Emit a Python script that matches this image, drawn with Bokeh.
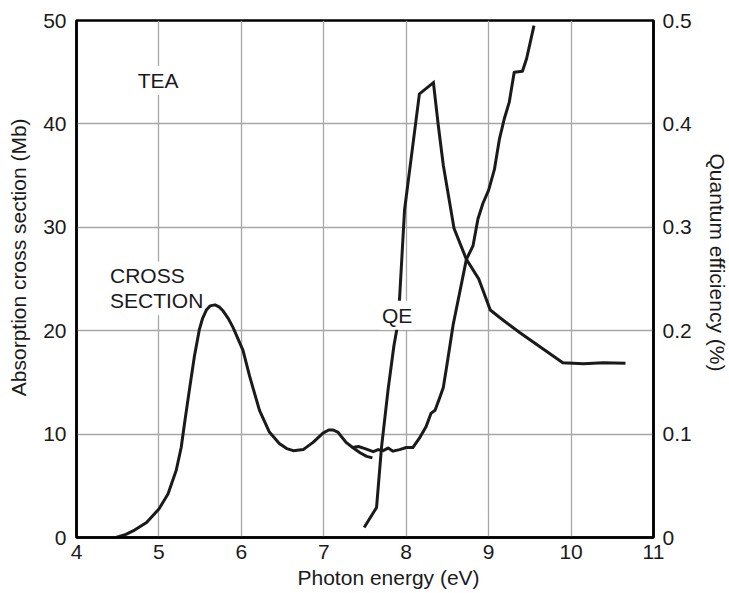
import math
from bokeh.plotting import figure
from bokeh.models import (ColumnDataSource, Range1d, LinearAxis, FixedTicker, Label, Title)
from bokeh.embed import file_html
from bokeh.resources import INLINE

# ---- data ----
# Absorption cross section (Mb), lower-energy part
cs1_energy = [4.48, 4.60, 4.705, 4.85, 5.00, 5.11, 5.21, 5.27, 5.31, 5.37, 5.43, 5.49,
              5.53, 5.575, 5.62, 5.68, 5.73, 5.78, 5.84, 5.90, 6.02, 6.10, 6.22, 6.34,
              6.46, 6.55, 6.63, 6.75, 6.87, 6.99, 7.06, 7.11, 7.17, 7.27, 7.35, 7.44,
              7.52, 7.59]
cs1_value = [0.0, 0.3, 0.72, 1.46, 2.76, 4.2, 6.5, 8.7, 11.0, 14.3, 17.5, 20.1,
             21.2, 22.0, 22.4, 22.5, 22.3, 21.9, 21.2, 20.3, 18.1, 15.6, 12.3, 10.2,
             9.1, 8.6, 8.4, 8.5, 9.2, 10.1, 10.4, 10.4, 10.2, 9.2, 8.7, 8.2,
             7.85, 7.7]
# Absorption cross section (Mb), higher-energy part
cs2_energy = [7.35, 7.42, 7.50, 7.60, 7.66, 7.72, 7.78, 7.84, 7.92, 8.00, 8.08, 8.16,
              8.24, 8.30, 8.35, 8.41, 8.45, 8.50, 8.57, 8.73, 8.81, 8.87, 8.93, 9.00,
              9.07, 9.13, 9.19, 9.25, 9.31, 9.41, 9.46, 9.55]
cs2_value = [8.7, 8.8, 8.6, 8.3, 8.5, 8.4, 8.65, 8.35, 8.5, 8.7, 8.7, 9.6,
             10.7, 12.0, 12.3, 13.6, 14.5, 17.0, 20.6, 26.9, 28.2, 30.8, 32.3, 33.6,
             35.6, 38.5, 40.5, 42.1, 45.0, 45.1, 46.3, 49.5]
# Quantum efficiency (%)
qe_energy = [7.49, 7.64, 7.70, 7.78, 7.85, 7.89, 7.92, 7.98, 8.16, 8.33, 8.39, 8.45,
             8.58, 8.73, 8.88, 9.02, 9.13, 9.38, 9.90, 10.15, 10.39, 10.66]
qe_value = [0.0097, 0.029, 0.087, 0.143, 0.185, 0.203, 0.232, 0.317, 0.429, 0.440, 0.398, 0.360,
            0.299, 0.269, 0.250, 0.220, 0.213, 0.198, 0.169, 0.168, 0.169, 0.1685]

x_ticks = [4, 5, 6, 7, 8, 9, 10, 11]
y_ticks = [0, 10, 20, 30, 40, 50]
qe_ticks = [0, 0.1, 0.2, 0.3, 0.4, 0.5]
qe_tick_labels = ["0", "0.1", "0.2", "0.3", "0.4", "0.5"]

x_title = "Photon energy (eV)"
y_title = "Absorption cross section (Mb)"
qe_title = "Quantum efficiency (%)"

FONT = "Liberation Sans"
FS = "21px"
INK = "#1a1a1a"

p = figure(width=729, height=593, x_range=Range1d(4, 11), y_range=Range1d(0, 50),
           output_backend="svg", toolbar_location=None,
           min_border_left=76, min_border_right=76, min_border_top=20, min_border_bottom=56)
p.extra_y_ranges = {"qe": Range1d(0, 0.5)}
qe_axis = LinearAxis(y_range_name="qe")
p.add_layout(qe_axis, "right")

p.xaxis.ticker = FixedTicker(ticks=x_ticks)
p.yaxis[0].ticker = FixedTicker(ticks=y_ticks)
qe_axis.ticker = FixedTicker(ticks=qe_ticks)
qe_axis.major_label_overrides = {t: l for t, l in zip(qe_ticks, qe_tick_labels)}

for ax in [p.xaxis[0], p.yaxis[0], qe_axis]:
    ax.axis_line_color = "black"
    ax.axis_line_width = 2.5
    ax.major_tick_line_color = None
    ax.minor_tick_line_color = None
    ax.major_label_text_font = FONT
    ax.major_label_text_font_size = FS
    ax.major_label_text_color = INK

p.xaxis.major_label_standoff = 1
p.yaxis[0].major_label_standoff = 4
qe_axis.major_label_standoff = 3

p.outline_line_color = "black"
p.outline_line_width = 2.5
p.xgrid.grid_line_color = "#a6a6a6"
p.ygrid.grid_line_color = "#a6a6a6"
p.xgrid.grid_line_width = 1.3
p.ygrid.grid_line_width = 1.3
p.background_fill_color = "white"
p.border_fill_color = "white"

src1 = ColumnDataSource(dict(x=cs1_energy, y=cs1_value))
src2 = ColumnDataSource(dict(x=cs2_energy, y=cs2_value))
src3 = ColumnDataSource(dict(x=qe_energy, y=qe_value))
for s in (src1, src2):
    p.line("x", "y", source=s, line_color=INK, line_width=3, line_join="round")
p.line("x", "y", source=src3, y_range_name="qe", line_color=INK, line_width=3,
       line_join="miter")

# in-plot annotations (white boxes hide grid lines behind them, as in the reference)
for txt, x, y, align, lvl in [("TEA", 4.99, 44.2, "center", "underlay"),
                              ("CROSS", 4.37, 25.3, "left", "underlay"),
                              ("SECTION", 4.37, 22.9, "left", "underlay"),
                              ("QE", 7.89, 21.5, "center", "annotation")]:
    p.add_layout(Label(x=x, y=y, text=txt, text_font=FONT, text_font_size=FS,
                       text_align=align, text_baseline="middle", text_color=INK,
                       background_fill_color="white", padding=3, level=lvl))

# bottom axis title: side-panel title offset along the axis as in the reference
p.add_layout(Title(text=x_title, align="left", offset=221, standoff=4,
                   text_font=FONT, text_font_size=FS, text_font_style="normal",
                   text_color=INK), "below")

# vertical axis titles: labels in the side panels (not clipped to the frame)
p.add_layout(Label(x=1, y=27.1, x_units="screen", y_units="data", text=y_title,
                   angle=math.pi / 2, text_font=FONT, text_font_size=FS, text_color=INK,
                   text_align="center", text_baseline="middle"), "left")
p.add_layout(Label(x=23, y=26.6, x_units="screen", y_units="data", text=qe_title,
                   angle=-math.pi / 2, text_font=FONT, text_font_size=FS, text_color=INK,
                   text_align="center", text_baseline="middle"), "right")

open("out.html", "w").write(file_html(p, INLINE))
